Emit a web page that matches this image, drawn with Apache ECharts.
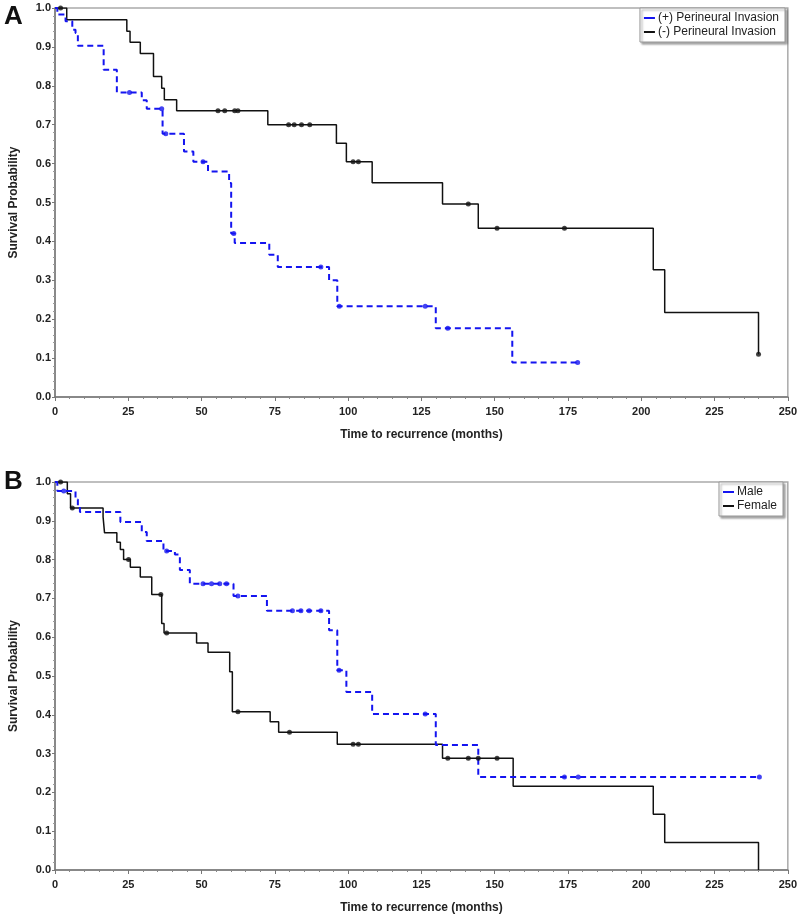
<!DOCTYPE html>
<html>
<head>
<meta charset="utf-8">
<script src="https://cdn.jsdelivr.net/npm/echarts@6/dist/echarts.min.js"></script>
<style>
  html, body { margin: 0; padding: 0; background: #fff; }
  #main { width: 800px; height: 921px; }
</style>
</head>
<body>
<div id="main"></div>
<script>
// x axis ticks (months)
const xTicks = [0, 25, 50, 75, 100, 125, 150, 175, 200, 225, 250]

// Panel A, (+) perineural invasion
const aPosT = [0, 0.8, 3.6, 5.9, 7, 7.8, 16.6, 21.1, 29.6, 31.3, 36.7, 44, 47.2, 52.2, 59.4, 60.1, 61.3, 73.1, 76, 93.5, 96.3, 129.9, 156, 178.3]
const aPosS = [1.0, 0.983, 0.966, 0.944, 0.936, 0.903, 0.841, 0.783, 0.763, 0.741, 0.677, 0.631, 0.605, 0.58, 0.55, 0.42, 0.396, 0.366, 0.334, 0.30, 0.233, 0.177, 0.089, 0.089]
const aPosCensT = [25.4, 36.4, 37.8, 50.5, 61, 90.7, 97, 126.3, 134, 178.3]
const aPosCensS = [0.783, 0.741, 0.677, 0.605, 0.42, 0.334, 0.233, 0.233, 0.177, 0.089]

// Panel A, (-) perineural invasion
const aNegT = [0, 4, 24.5, 25.6, 29.1, 33.6, 36.4, 37.3, 41.5, 72.6, 96, 99.4, 108.2, 132.2, 144.4, 204.1, 208, 240]
const aNegS = [1.0, 0.97, 0.94, 0.912, 0.883, 0.824, 0.794, 0.764, 0.736, 0.70, 0.652, 0.605, 0.551, 0.496, 0.434, 0.327, 0.217, 0.11]
const aNegCensT = [1.9, 55.6, 57.9, 61.3, 62.4, 79.7, 81.6, 84.1, 86.9, 101.7, 103.5, 141, 150.8, 173.8, 240]
const aNegCensS = [1.0, 0.736, 0.736, 0.736, 0.736, 0.70, 0.70, 0.70, 0.70, 0.605, 0.605, 0.496, 0.434, 0.434, 0.11]

// Panel B, male
const bMaleT = [0, 0.8, 7, 7.8, 8.5, 22.3, 29.6, 31.3, 37, 40.9, 42.6, 46, 60.9, 72.3, 93.5, 96.3, 99.4, 108.2, 129.9, 144.4, 240.3]
const bMaleS = [1.0, 0.977, 0.955, 0.936, 0.923, 0.897, 0.871, 0.848, 0.822, 0.813, 0.773, 0.738, 0.706, 0.668, 0.618, 0.515, 0.459, 0.402, 0.322, 0.24, 0.24]
const bMaleCensT = [3, 38.1, 50.5, 53.4, 56.2, 58.5, 62.4, 81, 83.9, 86.7, 90.7, 96.9, 126.3, 173.8, 178.5, 240.3]
const bMaleCensS = [0.977, 0.822, 0.738, 0.738, 0.738, 0.738, 0.706, 0.668, 0.668, 0.668, 0.668, 0.515, 0.402, 0.24, 0.24, 0.24]

// Panel B, female
const bFemT = [0, 4.2, 5.3, 16.4, 16.9, 21.1, 22.3, 23.4, 25.7, 29.1, 33, 36.4, 37.2, 48.3, 52.2, 59.6, 60.5, 73.4, 76.3, 96.3, 132.2, 156.3, 204.1, 208, 240]
const bFemS = [1.0, 0.97, 0.933, 0.91, 0.869, 0.845, 0.826, 0.80, 0.78, 0.755, 0.71, 0.635, 0.611, 0.585, 0.561, 0.511, 0.408, 0.382, 0.355, 0.324, 0.288, 0.216, 0.144, 0.071, 0.0]
const bFemCensT = [1.9, 5.9, 25.1, 36.1, 38.1, 62.4, 80, 101.7, 103.5, 134, 141, 144.4, 150.8]
const bFemCensS = [1.0, 0.933, 0.80, 0.71, 0.611, 0.408, 0.355, 0.324, 0.324, 0.288, 0.288, 0.288, 0.288]

const BLUE = '#1414f0'
const BLACK = '#111'
const FONT = 'Liberation Sans, Arial, sans-serif'

const pairs = (t, s) => t.map((v, i) => [v, s[i]])

const xAxisOf = (gridIndex) => ({
  type: 'value',
  gridIndex,
  min: xTicks[0],
  max: xTicks[xTicks.length - 1],
  interval: 25,
  name: 'Time to recurrence (months)',
  nameLocation: 'middle',
  nameGap: 32,
  nameTextStyle: { fontFamily: FONT, fontWeight: 'bold', fontSize: 12, color: '#222' },
  axisLine: { lineStyle: { color: '#777', width: 1.5 } },
  axisTick: { length: 4, lineStyle: { color: '#777' } },
  minorTick: { show: true, splitNumber: 5, length: 2, lineStyle: { color: '#888' } },
  axisLabel: { fontFamily: FONT, fontWeight: 'bold', fontSize: 11, color: '#222', margin: 9 },
  splitLine: { show: false }
})

const yAxisOf = (gridIndex) => ({
  type: 'value',
  gridIndex,
  min: 0,
  max: 1,
  interval: 0.1,
  name: 'Survival Probability',
  nameLocation: 'middle',
  nameGap: 35,
  nameTextStyle: { fontFamily: FONT, fontWeight: 'bold', fontSize: 12, color: '#222' },
  axisLine: { show: true, lineStyle: { color: '#777', width: 1.5 } },
  axisTick: { show: true, length: 3, lineStyle: { color: '#777' } },
  minorTick: { show: true, splitNumber: 5, length: 2, lineStyle: { color: '#999' } },
  axisLabel: { fontFamily: FONT, fontWeight: 'bold', fontSize: 11, color: '#222', margin: 4, formatter: v => v.toFixed(1) },
  splitLine: { show: false }
})

const stepLine = (name, idx, data, color, dashed) => ({
  name,
  type: 'line',
  xAxisIndex: idx,
  yAxisIndex: idx,
  step: 'end',
  data,
  showSymbol: false,
  symbol: 'none',
  lineStyle: { color, width: dashed ? 2 : 1.5, type: dashed ? [6, 4] : 'solid' },
  itemStyle: { color },
  z: dashed ? 3 : 2,
  animation: false
})

const censor = (name, idx, data, color) => ({
  name,
  type: 'scatter',
  xAxisIndex: idx,
  yAxisIndex: idx,
  data,
  symbol: 'circle',
  symbolSize: 5,
  itemStyle: { color },
  z: 4,
  animation: false
})

const legendOf = (names, top, right) => ({
  data: names.map(n => ({ name: n, icon: 'rect' })),
  top,
  right,
  orient: 'vertical',
  itemGap: 2,
  itemWidth: 11,
  itemHeight: 2,
  padding: [4, 6, 4, 4],
  backgroundColor: '#fff',
  borderColor: '#999',
  borderWidth: 1,
  shadowColor: 'rgba(0,0,0,0.35)',
  shadowBlur: 2,
  shadowOffsetX: 2,
  shadowOffsetY: 2,
  textStyle: { fontFamily: FONT, fontSize: 12, color: '#222', padding: [0, 0, 0, -2] }
})

const chart = echarts.init(document.getElementById('main'), null, { renderer: 'canvas' })

chart.setOption({
  backgroundColor: '#fff',
  animation: false,
  grid: [
    { left: 51, top: 8, width: 737, height: 389, show: true, borderColor: '#aaa', borderWidth: 1.5 },
    { left: 51, top: 482, width: 737, height: 388, show: true, borderColor: '#aaa', borderWidth: 1.5 }
  ],
  xAxis: [xAxisOf(0), xAxisOf(1)],
  yAxis: [yAxisOf(0), yAxisOf(1)],
  legend: [
    legendOf(['(+) Perineural Invasion', '(-) Perineural Invasion'], 8, 15),
    legendOf(['Male', 'Female'], 482, 17)
  ],
  graphic: [
    { type: 'text', left: 4, top: 4, style: { text: 'A', font: 'bold 26px Liberation Sans, Arial', fill: '#111' } },
    { type: 'text', left: 4, top: 469, style: { text: 'B', font: 'bold 26px Liberation Sans, Arial', fill: '#111' } }
  ],
  series: [
    stepLine('(-) Perineural Invasion', 0, pairs(aNegT, aNegS), BLACK, false),
    stepLine('(+) Perineural Invasion', 0, pairs(aPosT, aPosS), BLUE, true),
    censor('aNegCens', 0, pairs(aNegCensT, aNegCensS), BLACK),
    censor('aPosCens', 0, pairs(aPosCensT, aPosCensS), BLUE),
    stepLine('Female', 1, pairs(bFemT, bFemS), BLACK, false),
    stepLine('Male', 1, pairs(bMaleT, bMaleS), BLUE, true),
    censor('bFemCens', 1, pairs(bFemCensT, bFemCensS), BLACK),
    censor('bMaleCens', 1, pairs(bMaleCensT, bMaleCensS), BLUE)
  ]
})
</script>
</body>
</html>
